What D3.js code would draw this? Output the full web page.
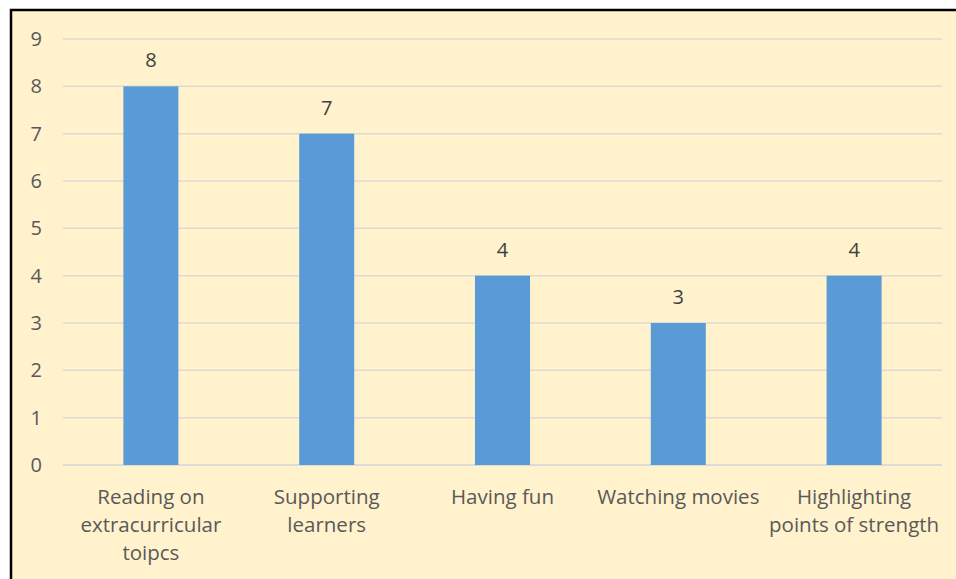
<!DOCTYPE html>
<html>
<head>
    <meta charset="utf-8">
    <script src="https://cdnjs.cloudflare.com/ajax/libs/d3/7.8.5/d3.min.js"></script>
    <style>
        body { margin: 0; background: #fff; }
        svg { display: block; }
    </style>
</head>
<body>
    <svg id="chart"></svg>
    <script>
        // chart data
        const categories = [
            ['Reading on', 'extracurricular', 'toipcs'],
            ['Supporting', 'learners'],
            ['Having fun'],
            ['Watching movies'],
            ['Highlighting', 'points of strength']
        ];
        const values = [8, 7, 4, 3, 4];
        const yTicks = [0, 1, 2, 3, 4, 5, 6, 7, 8, 9];

        const width = 956, height = 579;
        const margin = { left: 63, right: 14, top: 39, bottom: 114 };
        const font = "'Open Sans', 'Liberation Sans', sans-serif";

        const svg = d3.select('#chart')
            .attr('width', width)
            .attr('height', height);

        // background + frame
        svg.append('rect')
            .attr('x', 11).attr('y', 10)
            .attr('width', width - 11).attr('height', height - 10)
            .attr('fill', '#FFF2CC');
        svg.append('path')
            .attr('d', `M11,${height} L11,10 L${width},10`)
            .attr('fill', 'none')
            .attr('stroke', '#000')
            .attr('stroke-width', 2.5);

        const x = d3.scaleBand()
            .domain(d3.range(values.length))
            .range([margin.left, width - margin.right])
            .paddingInner(0.687)
            .paddingOuter(0.3435);

        const y = d3.scaleLinear()
            .domain([0, 9])
            .range([height - margin.bottom, margin.top]);

        // gridlines
        svg.append('g')
            .selectAll('line')
            .data(yTicks)
            .join('line')
            .attr('x1', margin.left)
            .attr('x2', width - margin.right)
            .attr('y1', d => y(d))
            .attr('y2', d => y(d))
            .attr('stroke', d => d === 0 ? '#D0D4D8' : '#DEDAD2')
            .attr('stroke-width', 1.5);

        // y tick labels
        svg.append('g')
            .selectAll('text')
            .data(yTicks)
            .join('text')
            .attr('x', 42)
            .attr('y', d => y(d))
            .attr('dy', '0.35em')
            .attr('text-anchor', 'end')
            .attr('font-family', font)
            .attr('font-size', 20)
            .attr('fill', '#595959')
            .text(d => d);

        // bars
        svg.append('g')
            .selectAll('rect')
            .data(values)
            .join('rect')
            .attr('x', (d, i) => x(i))
            .attr('y', d => y(d))
            .attr('width', x.bandwidth())
            .attr('height', d => y(0) - y(d))
            .attr('fill', '#5B9BD5');

        // value labels
        svg.append('g')
            .selectAll('text')
            .data(values)
            .join('text')
            .attr('x', (d, i) => x(i) + x.bandwidth() / 2)
            .attr('y', d => y(d) - 19)
            .attr('text-anchor', 'middle')
            .attr('font-family', font)
            .attr('font-size', 20)
            .attr('fill', '#404040')
            .text(d => d);

        // category labels
        const cat = svg.append('g')
            .selectAll('text')
            .data(categories)
            .join('text')
            .attr('text-anchor', 'middle')
            .attr('font-family', font)
            .attr('font-size', 20.5)
            .attr('fill', '#595959');
        cat.each(function (lines, i) {
            d3.select(this).selectAll('tspan')
                .data(lines)
                .join('tspan')
                .attr('x', x(i) + x.bandwidth() / 2)
                .attr('y', (d, j) => y(0) + 39 + j * 28)
                .text(d => d);
        });
    </script>
</body>
</html>
